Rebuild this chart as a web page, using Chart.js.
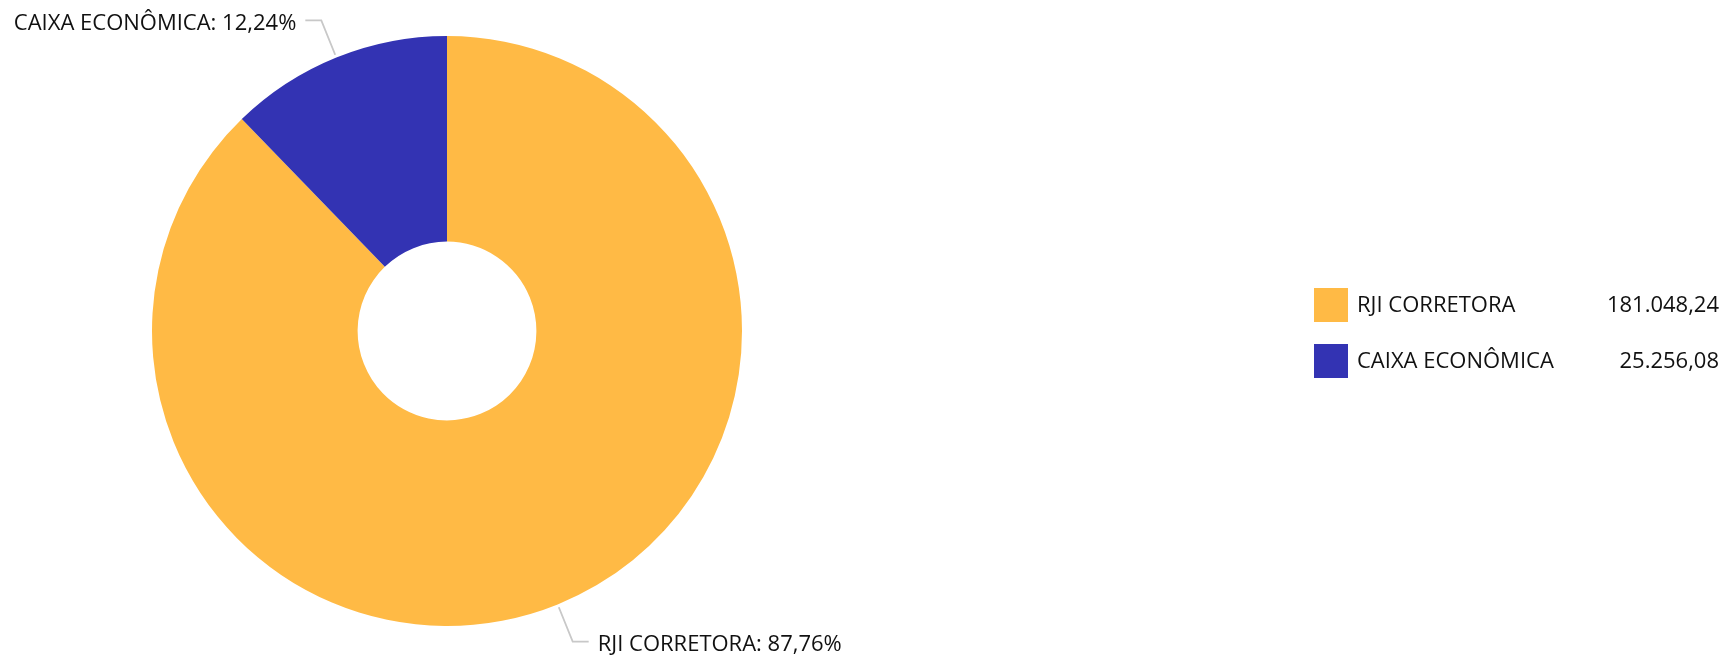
<!DOCTYPE html>
<html lang="pt-BR">
<head>
  <meta charset="UTF-8">
  <title>Distribuição por instituição</title>
  <script src="https://cdn.jsdelivr.net/npm/chart.js"></script>
  <style>
    html, body { margin: 0; padding: 0; background: #fff; }
    #wrap { position: relative; width: 1729px; height: 661px; }
  </style>
</head>
<body>
  <div id="wrap">
    <canvas id="pieChart" width="1729" height="661"></canvas>
  </div>

  <script>
    const labels = ['RJI CORRETORA', 'CAIXA ECONÔMICA'];
    const values = [181048.24, 25256.08];
    const colors = ['#FFBA45', '#3333B3'];

    const FONT = '"Open Sans", "Noto Sans", sans-serif';
    const total = values.reduce((a, b) => a + b, 0);

    function fmtNum(v) {
      return v.toLocaleString('pt-BR', { minimumFractionDigits: 2, maximumFractionDigits: 2 });
    }

    // leader lines + "NAME: xx,xx%" labels
    const sliceLabels = {
      id: 'sliceLabels',
      afterDatasetsDraw(chart) {
        const ctx = chart.ctx;
        const meta = chart.getDatasetMeta(0);
        ctx.save();
        ctx.font = '22px ' + FONT;
        ctx.textBaseline = 'middle';
        meta.data.forEach((arc, i) => {
          const mid = (arc.startAngle + arc.endAngle) / 2;
          const r = arc.outerRadius;
          const cx = arc.x, cy = arc.y;
          const x0 = cx + Math.cos(mid) * (r + 3), y0 = cy + Math.sin(mid) * (r + 3);
          const x1 = cx + Math.cos(mid) * (r + 40), y1 = cy + Math.sin(mid) * (r + 40);
          const right = Math.cos(mid) >= 0;
          const x2 = x1 + (right ? 16 : -16);
          ctx.strokeStyle = '#c8c8c8';
          ctx.lineWidth = 1.8;
          ctx.beginPath();
          ctx.moveTo(x0, y0);
          ctx.lineTo(x1, y1);
          ctx.lineTo(x2, y1);
          ctx.stroke();
          const pct = (values[i] / total * 100).toFixed(2).replace('.', ',');
          ctx.fillStyle = '#111111';
          ctx.textAlign = right ? 'left' : 'right';
          ctx.fillText(labels[i] + ': ' + pct + '%', x2 + (right ? 9 : -9), y1 + 3);
        });
        ctx.restore();
      }
    };

    // legend on the right with values
    const sideLegend = {
      id: 'sideLegend',
      afterDraw(chart) {
        const ctx = chart.ctx;
        ctx.save();
        ctx.font = '22px ' + FONT;
        ctx.textBaseline = 'middle';
        labels.forEach((lab, i) => {
          const y = 288 + i * 56;
          ctx.fillStyle = colors[i];
          ctx.fillRect(1314, y, 34, 34);
          ctx.fillStyle = '#111111';
          ctx.textAlign = 'left';
          ctx.fillText(lab, 1357, y + 18);
          ctx.textAlign = 'right';
          ctx.fillText(fmtNum(values[i]), 1719, y + 18);
        });
        ctx.restore();
      }
    };

    new Chart(document.getElementById('pieChart').getContext('2d'), {
      type: 'doughnut',
      data: {
        labels: labels,
        datasets: [{
          data: values,
          backgroundColor: colors,
          borderWidth: 0,
          hoverOffset: 0
        }]
      },
      options: {
        responsive: false,
        animation: false,
        cutout: '30.3%',
        layout: { padding: { left: 152, right: 987, top: 36, bottom: 35 } },
        plugins: {
          legend: { display: false },
          tooltip: { enabled: false }
        }
      },
      plugins: [sliceLabels, sideLegend]
    });
  </script>
</body>
</html>
